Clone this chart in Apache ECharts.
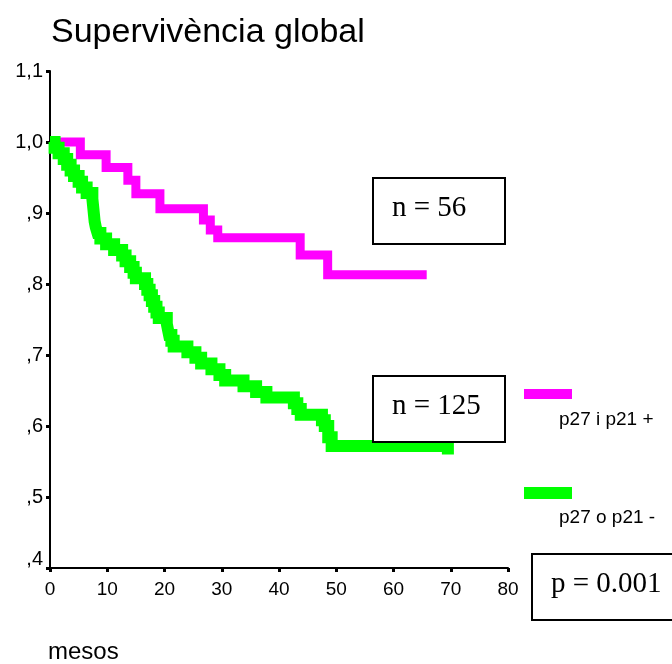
<!DOCTYPE html>
<html>
<head>
<meta charset="utf-8">
<script src="https://cdn.jsdelivr.net/npm/echarts@6/dist/echarts.min.js"></script>
<style>
  html, body { margin: 0; padding: 0; background: #fff; }
  #chart { width: 672px; height: 664px; }
</style>
</head>
<body>
<div id="chart"></div>
<script>
// Kaplan-Meier: temps (mesos) i supervivència acumulada després de cada esglaó
const timesPos = [0, 5.3, 9.8, 13.6, 15.0, 19.2, 26.8, 28.0, 29.3, 43.7, 48.5, 65.8];
const survPos = [1.0, 0.982, 0.964, 0.946, 0.927, 0.906, 0.89, 0.876, 0.865, 0.841, 0.813, 0.813];

const timesNeg = [0, 0.8, 1.5, 2.4, 3.0, 3.6, 4.2, 5.0, 5.6, 6.4, 7.4, 7.6, 7.8, 8.0, 8.3, 8.8,
  9.8, 11.2, 12.6, 13.2, 14.0, 14.6, 15.0, 16.6, 17.0, 17.4, 17.8, 18.2, 18.6, 19.0, 20.4,
  20.6, 20.8, 21.2, 21.6, 24.0, 25.4, 26.4, 28.2, 29.6, 30.6, 33.8, 36.0, 37.8, 42.6, 43.2,
  43.8, 47.5, 48.0, 48.6, 49.2, 69.5];
const survNeg = [1.0, 0.992, 0.984, 0.976, 0.968, 0.96, 0.952, 0.944, 0.936, 0.928, 0.92, 0.904,
  0.888, 0.88, 0.872, 0.864, 0.856, 0.848, 0.84, 0.832, 0.824, 0.816, 0.808, 0.8, 0.792, 0.784,
  0.776, 0.768, 0.76, 0.752, 0.744, 0.736, 0.728, 0.72, 0.712, 0.704, 0.696, 0.688, 0.68, 0.672,
  0.664, 0.656, 0.648, 0.64, 0.632, 0.624, 0.616, 0.608, 0.6, 0.584, 0.572, 0.56, 0.56];

const groupNames = ['p27 i p21 +', 'p27 o p21 -'];
const groupColors = ['#ff00ff', '#00ff00'];
const boxTexts = ['n = 56', 'n = 125', 'p = 0.001'];

const chart = echarts.init(document.getElementById('chart'));

function yLabel(v) {
  const r = Math.round(v * 10) / 10;
  let s = r.toFixed(1).replace('.', ',');
  if (s.startsWith('0')) s = s.slice(1);
  return r === 0.4 ? '{low|' + s + '}' : s;
}

function box(x, y, w, h, text) {
  return [
    { type: 'rect', shape: { x: x, y: y, width: w, height: h },
      style: { fill: '#fff', stroke: '#000', lineWidth: 2 }, z: 10 },
    { type: 'text', x: x + 19, y: y + h / 2 - 3, z: 11,
      style: { text: text, font: '29px "Liberation Serif", "Times New Roman", serif',
        fill: '#000', verticalAlign: 'middle', align: 'left' } }
  ];
}

const sans = '"Liberation Sans", Arial, Helvetica, sans-serif';

chart.setOption({
  animation: false,
  backgroundColor: '#fff',
  title: {
    text: 'Supervivència global',
    left: 46, top: 11,
    textStyle: { fontFamily: sans, fontSize: 34, fontWeight: 'normal', color: '#000' }
  },
  grid: { left: 50, top: 71, width: 458, height: 497 },
  xAxis: {
    type: 'value', min: 0, max: 80, interval: 10,
    axisLine: { lineStyle: { color: '#000', width: 2 } },
    axisTick: { show: true, length: 4, lineStyle: { color: '#000', width: 3 } },
    axisLabel: { color: '#000', fontFamily: sans, fontSize: 19, margin: 12 },
    splitLine: { show: false }
  },
  yAxis: {
    type: 'value', min: 0.4, max: 1.1, interval: 0.1,
    axisLine: { show: true, lineStyle: { color: '#000', width: 2 } },
    axisTick: { show: true, length: 4, lineStyle: { color: '#000', width: 3 } },
    axisLabel: {
      color: '#000', fontFamily: sans, fontSize: 20, margin: 7,
      formatter: yLabel,
      rich: { low: { fontFamily: sans, fontSize: 20, color: '#000', padding: [0, 0, 18, 0] } }
    },
    splitLine: { show: false }
  },
  series: [
    {
      name: groupNames[0], type: 'line', step: 'end', symbol: 'none',
      data: timesPos.map((t, i) => [t, survPos[i]]),
      lineStyle: { color: groupColors[0], width: 9, cap: 'butt', join: 'miter' }
    },
    {
      name: groupNames[1], type: 'line', step: 'end', symbol: 'none',
      data: timesNeg.map((t, i) => [t, survNeg[i]]),
      lineStyle: { color: groupColors[1], width: 12, cap: 'butt', join: 'miter' }
    }
  ],
  graphic: [
    ...box(373, 178, 132, 66, boxTexts[0]),
    ...box(373, 376, 132, 66, boxTexts[1]),
    ...box(532, 554, 150, 66, boxTexts[2]),
    { type: 'rect', shape: { x: 524, y: 389, width: 48, height: 10 }, style: { fill: groupColors[0] } },
    { type: 'text', x: 559, y: 420, style: { text: groupNames[0], font: '19px ' + sans, fill: '#000', verticalAlign: 'middle' } },
    { type: 'rect', shape: { x: 524, y: 487, width: 48, height: 12 }, style: { fill: groupColors[1] } },
    { type: 'text', x: 559, y: 518, style: { text: groupNames[1], font: '19px ' + sans, fill: '#000', verticalAlign: 'middle' } },
    { type: 'text', x: 48, y: 652, style: { text: 'mesos', font: '24px ' + sans, fill: '#000', verticalAlign: 'middle' } }
  ]
});
</script>
</body>
</html>
